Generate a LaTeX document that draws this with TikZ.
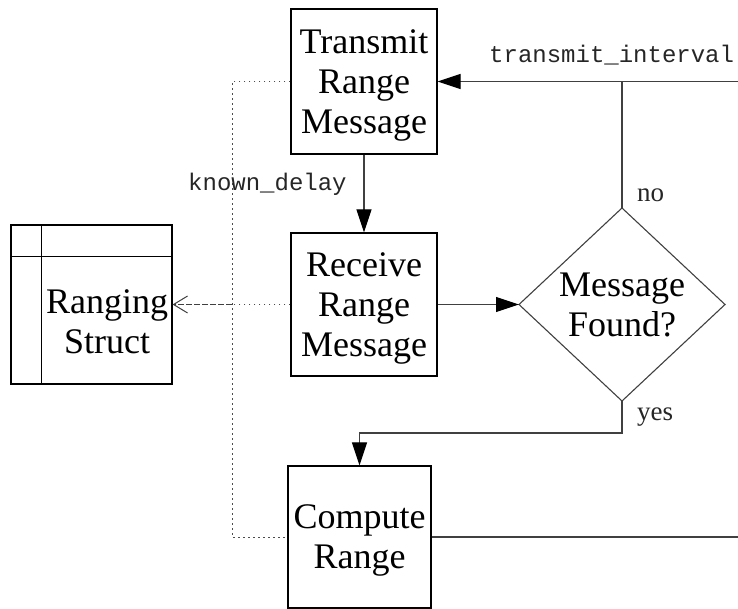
\documentclass[tikz,border=0pt]{standalone}
\usepackage{fontspec}
\setmainfont{Liberation Serif}
\setmonofont{Liberation Mono}
\usetikzlibrary{arrows.meta}
\begin{document}
\begin{tikzpicture}[x=1pt,y=-1pt,
  procbox/.style={draw=black, line width=1.2pt, fill=white, inner sep=0pt,
    align=center, text depth=0pt, font=\fontsize{36}{40}\selectfont},
  bigtext/.style={inner sep=0pt, align=center, font=\fontsize{36}{40}\selectfont},
  flow/.style={draw=black!75, line width=1.1pt,
    -{Triangle[length=23pt,width=15pt,color=black]}},
  plainline/.style={draw=black!75, line width=1.1pt},
  dotline/.style={draw=black!70, line width=1pt, dash pattern=on 1.5pt off 3.5pt},
  dashline/.style={draw=black!75, line width=1pt, dash pattern=on 6pt off 2pt,
    -{Straight Barb[length=14pt,width=17pt]}},
  codelabel/.style={inner sep=0pt, anchor=base west, font=\fontsize{24}{28}\selectfont\ttfamily, text=black!85},
  branchlabel/.style={inner sep=0pt, anchor=base west, font=\fontsize{27}{30}\selectfont, text=black!85}
]
\useasboundingbox (0,0) rectangle (738,609);

% process boxes
\node[procbox, minimum width=146pt, minimum height=145pt] (tx) at (364,81.5) {Transmit\\Range\\Message};
\node[procbox, minimum width=146pt, minimum height=143pt] (rx) at (364,304.5) {Receive\\Range\\Message};
\node[procbox, minimum width=143pt, minimum height=142pt] (cr) at (359.5,537) {Compute\\Range};

% data structure
\node[draw=black, line width=1.2pt, inner sep=0pt, minimum width=161pt, minimum height=159pt] (rs) at (91.5,304.5) {};
\draw[black, line width=1.2pt] (rs.north west) ++(31,0) coordinate (rsv) -- (rsv |- rs.south);
\draw[black, line width=1.2pt] (rs.north west) ++(0,32) coordinate (rsh) -- (rsh -| rs.east);
\node[bigtext] (rstext) at (107,322) {Ranging\\Struct};

% decision
\coordinate (dt) at (622,208);
\coordinate (dr) at (725,304.5);
\coordinate (db) at (622,401);
\coordinate (dl) at (519,304.5);
\draw[draw=black!75, line width=1.1pt] (dt) -- (dr) -- (db) -- (dl) -- cycle;
\node[bigtext] (found) at (622,304.5) {Message\\Found?};

% flow connectors
\coordinate (tin) at (738,81.5);
\coordinate (cout) at (738,537);
\coordinate (ybend) at (622,433);
\draw[flow] (tin) -- (tx.east);
\draw[plainline] (dt) -- (dt |- tin);
\draw[flow] (tx.south) -- (rx.north);
\draw[flow] (rx.east) -- (dl);
\draw[flow] (db) -- (ybend) -| (cr.north);
\draw[plainline] (cr.east) -- (cout);

% data connectors
\coordinate (jtop) at (232,81.5);
\coordinate (jbot) at (232,537);
\draw[dotline] (tx.west) -- (jtop) -- (jbot) -- (cr.west);
\draw[dotline] (rx.west) -- (rx.west -| jtop);
\draw[dashline] (rx.west -| jtop) -- (rs.east);

% labels
\node[codelabel] (lint) at (489,63) {transmit\_interval};
\node[codelabel] (ldel) at (188,191) {known\_delay};
\node[branchlabel] (lno) at (637,202) {no};
\node[branchlabel] (lyes) at (637,420) {yes};
\end{tikzpicture}
\end{document}
